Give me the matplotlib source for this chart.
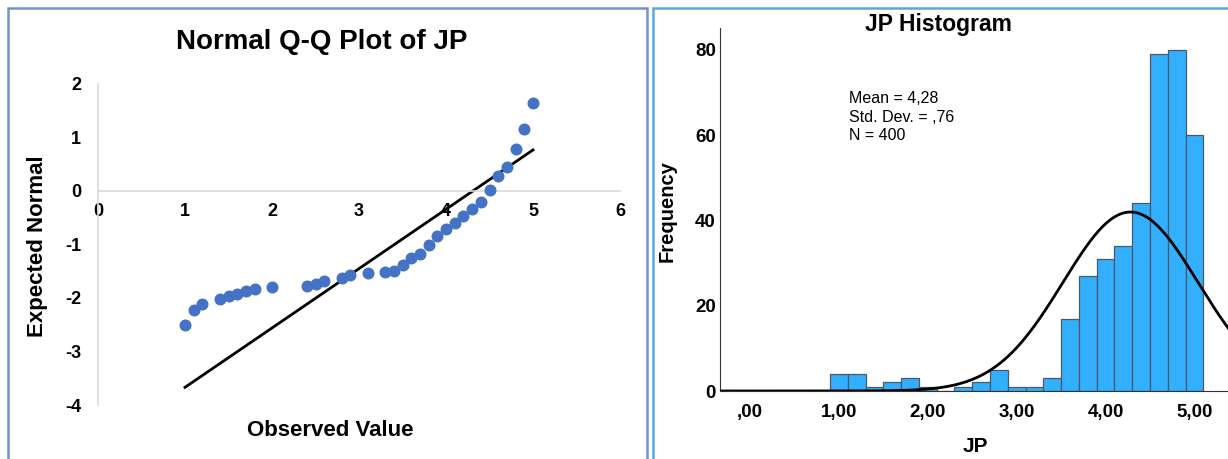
"""Normal Q-Q plot and histogram of JP, side by side."""
import numpy as np
import matplotlib
matplotlib.use("Agg")
import matplotlib.pyplot as plt
from matplotlib.patches import Rectangle

plt.rcParams["font.family"] = ["Liberation Sans", "DejaVu Sans"]
plt.rcParams["axes.unicode_minus"] = False

# --- Q-Q data
observed = [1.0, 1.1, 1.2, 1.4, 1.5, 1.6, 1.7, 1.8, 2.0, 2.4, 2.5, 2.6, 2.8, 2.9,
            3.1, 3.3, 3.4, 3.5, 3.6, 3.7, 3.8, 3.9, 4.0, 4.1, 4.2, 4.3, 4.4, 4.5,
            4.6, 4.7, 4.8, 4.9, 5.0]
expected = [-2.51, -2.22, -2.11, -2.02, -1.97, -1.92, -1.87, -1.83, -1.79, -1.77,
            -1.74, -1.69, -1.63, -1.57, -1.54, -1.52, -1.49, -1.38, -1.25, -1.18,
            -1.01, -0.84, -0.71, -0.60, -0.48, -0.34, -0.22, 0.01, 0.27, 0.45,
            0.78, 1.15, 1.64]
fit_x = [1.0, 5.0]
fit_y = [-3.67, 0.76]
qq_xticks = [0, 1, 2, 3, 4, 5, 6]
qq_yticks = [-4, -3, -2, -1, 0, 1, 2]

# --- histogram data
bin_centers = [1.0, 1.2, 1.4, 1.6, 1.8, 2.0, 2.2, 2.4, 2.6, 2.8, 3.0, 3.2, 3.4,
               3.6, 3.8, 4.0, 4.2, 4.4, 4.6, 4.8, 5.0]
counts = [4, 4, 1, 2, 3, 1, 0, 1, 2, 5, 1, 1, 3, 17, 27, 31, 34, 44, 79, 80, 60]
bin_width = 0.2
mean, sd, n = 4.28, 0.76, 400
hist_xticks = [0, 1, 2, 3, 4, 5]
hist_xlabels = [",00", "1,00", "2,00", "3,00", "4,00", "5,00"]
hist_yticks = [0, 20, 40, 60, 80]

W, H = 1228, 459
fig = plt.figure(figsize=(W / 100, H / 100), dpi=100)


def fx(px):
    return px / W


def fy(py):
    return 1 - py / H


# panel frames
fig.patches.append(Rectangle((fx(8), fy(470)), fx(647 - 8), fy(8) - fy(470),
                             transform=fig.transFigure, fill=False,
                             ec="#7393cf", lw=1.8))
fig.patches.append(Rectangle((fx(653), fy(470)), fx(1240 - 653), fy(8) - fy(470),
                             transform=fig.transFigure, fill=False,
                             ec="#5ba6dd", lw=1.8))

# ---------------- left: Q-Q plot
axL = fig.add_axes([fx(98), fy(405), fx(620 - 98), fy(83.5) - fy(405)])
axL.set_xlim(0, 6)
axL.set_ylim(-4, 2)
for s in ("top", "right"):
    axL.spines[s].set_visible(False)
axL.spines["bottom"].set_position(("data", 0))
axL.spines["bottom"].set_color("#d9d9d9")
axL.spines["left"].set_color("#d9d9d9")
axL.spines["bottom"].set_linewidth(1.2)
axL.spines["left"].set_linewidth(1.2)
axL.set_xticks(qq_xticks)
axL.set_yticks(qq_yticks)
axL.tick_params(length=0, labelsize=13, colors="black")
axL.tick_params(axis="x", pad=9)
axL.tick_params(axis="y", pad=12)
for lab in axL.get_xticklabels() + axL.get_yticklabels():
    lab.set_fontweight("bold")
axL.plot(fit_x, fit_y, color="black", lw=2.0, zorder=2)
axL.scatter(observed, expected, s=58, color="#4472c4", zorder=3)

fig.text(fx(322), fy(42), "Normal Q-Q Plot of JP", ha="center", va="center",
         fontsize=20, fontweight="bold")
fig.text(fx(38), fy(246), "Expected Normal", ha="center", va="center",
         rotation=90, fontsize=16, fontweight="bold")
fig.text(fx(330), fy(430), "Observed Value", ha="center", va="center",
         fontsize=16, fontweight="bold")

# ---------------- right: histogram
x0 = -0.337
x1 = (W - 750) / 88.9
axR = fig.add_axes([fx(720), fy(391), fx(W - 720), fy(28) - fy(391)])
axR.set_xlim(x0, x1)
axR.set_ylim(0, (391 - 28) / 85.25 * 20)
axR.bar(bin_centers, counts, width=bin_width, color="#33afff",
        edgecolor="#4b5966", linewidth=0.9, zorder=2)
xs = np.linspace(x0, x1 + 0.2, 400)
curve = n * bin_width / (sd * np.sqrt(2 * np.pi)) * np.exp(-0.5 * ((xs - mean) / sd) ** 2)
axR.plot(xs, curve, color="black", lw=2.0, zorder=3, clip_on=True)
for s in ("top", "right"):
    axR.spines[s].set_visible(False)
axR.spines["left"].set_color("#333333")
axR.spines["bottom"].set_color("#333333")
axR.set_xticks(hist_xticks)
axR.set_xticklabels(hist_xlabels)
axR.set_yticks(hist_yticks)
axR.tick_params(length=0, labelsize=13.5, colors="black")
axR.tick_params(axis="x", pad=9)
axR.tick_params(axis="y", pad=3)
for lab in axR.get_xticklabels() + axR.get_yticklabels():
    lab.set_fontweight("bold")

fig.text(fx(938), fy(24), "JP Histogram", ha="center", va="center",
         fontsize=16.5, fontweight="bold")
fig.text(fx(667), fy(211), "Frequency", ha="center", va="center",
         rotation=90, fontsize=14.5, fontweight="bold")
fig.text(fx(975), fy(447), "JP", ha="center", va="center",
         fontsize=15, fontweight="bold")
fig.text(fx(849), fy(91), "Mean = 4,28\nStd. Dev. = ,76\nN = 400",
         ha="left", va="top", fontsize=11.5, linespacing=1.3)

fig.savefig("out.png", dpi=100)
